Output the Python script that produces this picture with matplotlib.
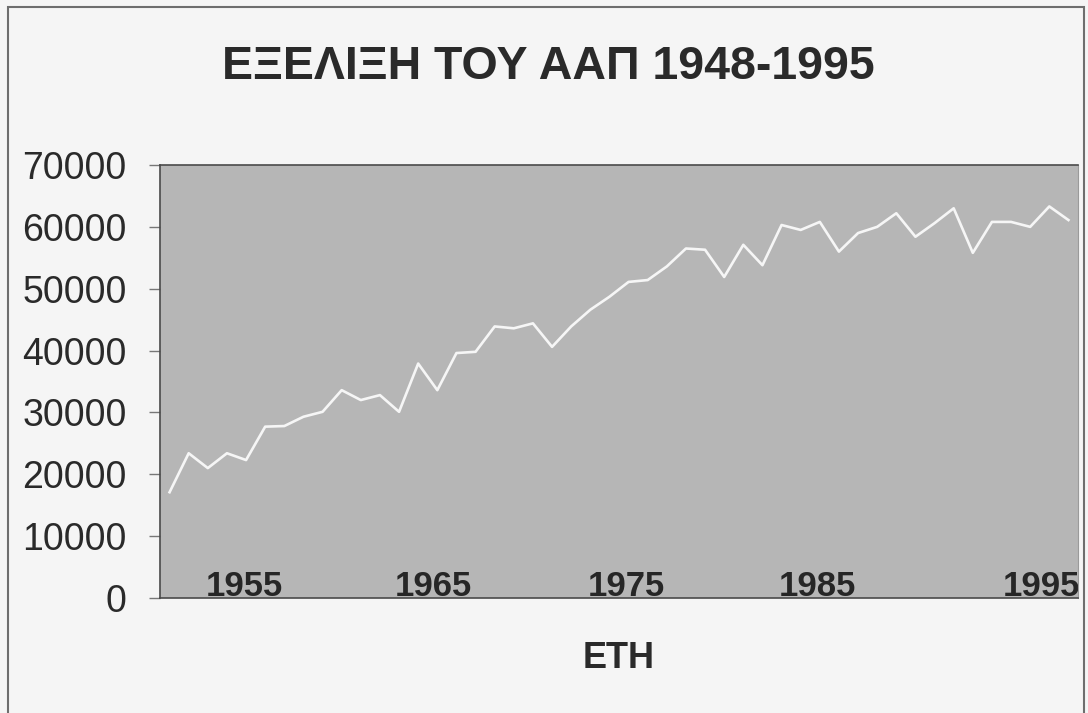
import matplotlib
matplotlib.use('Agg')
import matplotlib.pyplot as plt
from matplotlib.patches import Rectangle

plt.rcParams['font.family'] = ['Liberation Sans', 'DejaVu Sans']

# data (ΑΑΠ per year)
years = list(range(1948, 1996))
aap = [17100, 23400, 21000, 23400, 22300, 27700, 27800, 29300, 30100, 33600,
       32000, 32800, 30100, 37900, 33600, 39600, 39800, 43900, 43600, 44400,
       40600, 43900, 46600, 48700, 51100, 51400, 53600, 56500, 56300, 51900,
       57100, 53800, 60300, 59500, 60800, 56000, 59000, 60000, 62200, 58400,
       60600, 63000, 55800, 60800, 60800, 60000, 63300, 61100]

# the year labels sit a bit off their own years in the original
xtick_pos = [1951.9, 1961.8, 1971.9, 1981.85, 1993.6]
xtick_labels = ['1955', '1965', '1975', '1985', '1995']
ytick_vals = [0, 10000, 20000, 30000, 40000, 50000, 60000, 70000]

fig = plt.figure(figsize=(10.88, 7.13), dpi=100)
fig.patch.set_facecolor('#f5f5f5')

# outer chart border
fig.add_artist(Rectangle((8 / 1088, -0.01), 1076 / 1088, 1.01 - 7 / 713,
                         transform=fig.transFigure, fill=False,
                         edgecolor='#6e6e6e', linewidth=1.5))

ax = fig.add_axes([160 / 1088, 1 - 598 / 713, 918 / 1088, 433 / 713])
ax.set_facecolor('#b6b6b6')
ax.plot(years, aap, color='#f6f6f6', linewidth=1.9)

ax.set_xlim(1947.5, 1995.5)
ax.set_ylim(0, 70000)
ax.set_yticks(ytick_vals)
ax.set_yticklabels([str(v) for v in ytick_vals], fontsize=27, color='#2a2a2a')
ax.tick_params(axis='y', direction='out', length=8, width=1, color='#777777', pad=16)

ax.set_xticks(xtick_pos)
ax.set_xticklabels(xtick_labels, fontsize=25, fontweight='bold', color='#262626')
ax.tick_params(axis='x', length=0, pad=-20)

for side in ['top', 'left', 'bottom']:
    ax.spines[side].set_color('#4a4a4a')
    ax.spines[side].set_linewidth(1.2)
ax.spines['right'].set_color('#9a9a9a')

fig.text(548 / 1088, 1 - 67 / 713, 'ΕΞΕΛΙΞΗ ΤΟΥ ΑΑΠ 1948-1995', fontsize=33.5,
         fontweight='bold', color='#2a2a2a', ha='center', va='center')
fig.text(619 / 1088, 1 - 659 / 713, 'ΕΤΗ', fontsize=26,
         fontweight='bold', color='#2a2a2a', ha='center', va='center')

plt.savefig('out.png', dpi=100, facecolor=fig.get_facecolor())
